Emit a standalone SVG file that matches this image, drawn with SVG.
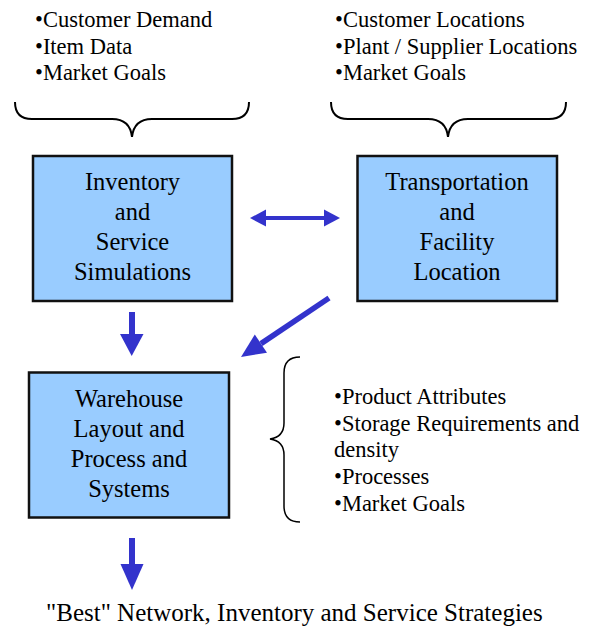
<svg xmlns="http://www.w3.org/2000/svg" width="596" height="627" viewBox="0 0 596 627">
<style>
.bg{fill:#ffffff}
.box{fill:#99ccff;stroke:#111111;stroke-width:2.5}
.bt{font-size:24.5px;fill:#000;text-anchor:middle}
.lt{font-size:22.5px;fill:#000}
.bottom{font-size:25px;fill:#000}
.brace{fill:none;stroke:#000;stroke-width:2}
.brace2{fill:none;stroke:#000;stroke-width:1.5}
.arr{fill:#3333cc}
.shaft{stroke:#3333cc;fill:none}
</style>
<rect class="bg" x="0" y="0" width="596" height="627"/>
<g font-family="Liberation Serif, Times New Roman, DejaVu Serif, serif">
<g id="inputs-left">
<text class="lt" x="35" y="27">•Customer Demand</text>
<text class="lt" x="35" y="53.5">•Item Data</text>
<text class="lt" x="35" y="80">•Market Goals</text>
<path class="brace" d="M15,102 Q15,119 32,119 L112,119 Q130,119 132,137 Q134,119 152,119 L232,119 Q249,119 249,102"/>
</g>

<g id="inputs-right">
<text class="lt" x="335" y="27">•Customer Locations</text>
<text class="lt" x="335" y="53.5">•Plant / Supplier Locations</text>
<text class="lt" x="335" y="80">•Market Goals</text>
<path class="brace" d="M331,102 Q331,119 348,119 L428,119 Q446,119 448,137 Q450,119 468,119 L549,119 Q566,119 566,102"/>
</g>

<g id="inventory">
<rect class="box" x="33" y="156" width="199" height="145"/>
<text class="bt" x="132.5" y="190">Inventory</text>
<text class="bt" x="132.5" y="220">and</text>
<text class="bt" x="132.5" y="250">Service</text>
<text class="bt" x="132.5" y="280">Simulations</text>
</g>

<g id="transportation">
<rect class="box" x="357.5" y="156" width="199.5" height="145"/>
<text class="bt" x="457" y="190">Transportation</text>
<text class="bt" x="457" y="220">and</text>
<text class="bt" x="457" y="250">Facility</text>
<text class="bt" x="457" y="280">Location</text>
</g>

<g id="warehouse">
<rect class="box" x="29" y="372.5" width="200" height="145"/>
<text class="bt" x="129" y="407">Warehouse</text>
<text class="bt" x="129" y="437">Layout and</text>
<text class="bt" x="129" y="467">Process and</text>
<text class="bt" x="129" y="497">Systems</text>
</g>

<g id="warehouse-inputs">
<path class="brace2" d="M300,357 Q284,357 284,373 L284,423 Q284,437 270,439 Q284,441 284,455 L284,506 Q284,522 300,522"/>
<text class="lt" x="334" y="403.5">•Product Attributes</text>
<text class="lt" x="334" y="430.5">•Storage Requirements and</text>
<text class="lt" x="334" y="457">density</text>
<text class="lt" x="334" y="483.5">•Processes</text>
<text class="lt" x="334" y="511">•Market Goals</text>
</g>

<g id="result">
<text class="bottom" x="46" y="621">"Best" Network, Inventory and Service Strategies</text>
</g>
</g>
<g id="connectors">
<line class="shaft" x1="264" y1="218" x2="326" y2="218" stroke-width="4"/>
<polygon class="arr" points="250,218 266,209.5 266,226.5"/>
<polygon class="arr" points="340,218 324,209.5 324,226.5"/>
<rect class="arr" x="129" y="312" width="6" height="23"/>
<polygon class="arr" points="120,334 143.5,334 131.7,356"/>
<line class="shaft" x1="329" y1="298" x2="261" y2="343.6" stroke-width="5.5"/>
<polygon class="arr" points="241,357 267,352.7 254.8,334.5"/>
<rect class="arr" x="129" y="538" width="6" height="27"/>
<polygon class="arr" points="120.5,564 143.5,564 132,590"/>
</g>
</svg>
